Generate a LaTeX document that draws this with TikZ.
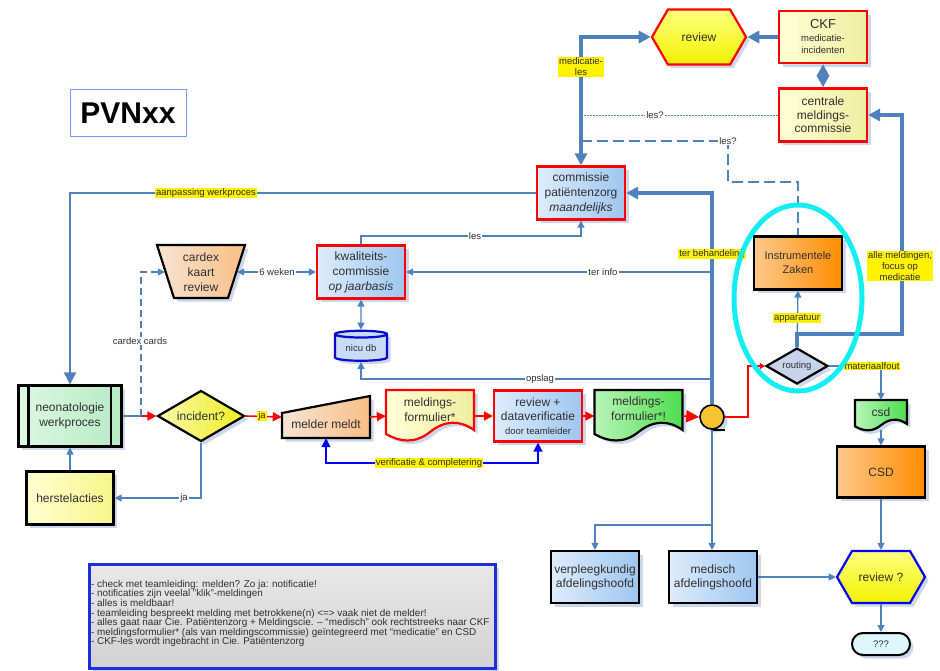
\documentclass[tikz,border=0pt]{standalone}
\usepackage{fontspec}
\setmainfont{Liberation Sans}
\usetikzlibrary{arrows.meta,shapes.geometric,shapes.symbols,shapes.misc,shadows}
\definecolor{lineblue}{HTML}{4F81BD}
\definecolor{shadowc}{HTML}{CCD8EA}
\definecolor{bA}{HTML}{DDECFB}
\definecolor{bB}{HTML}{9EC6F0}
\definecolor{yA}{HTML}{FFFFD6}
\definecolor{yB}{HTML}{EEEEA0}
\definecolor{oA}{HTML}{FFC88A}
\definecolor{oB}{HTML}{FF8C00}
\definecolor{pA}{HTML}{F7E4D4}
\definecolor{pB}{HTML}{F9BE86}
\definecolor{gA}{HTML}{DDF7E2}
\definecolor{gB}{HTML}{B6EBC3}
\definecolor{grA}{HTML}{B8F5B8}
\definecolor{grB}{HTML}{4DDE4D}
\definecolor{incA}{HTML}{F8F8B0}
\definecolor{incB}{HTML}{EEEE20}
\definecolor{hyA}{HTML}{FFFFD0}
\definecolor{hyB}{HTML}{F6F68C}
\definecolor{routc}{HTML}{C7D3EA}
\definecolor{nicuf}{HTML}{C9DCF6}
\definecolor{nicub}{HTML}{0A0ACC}
\definecolor{circf}{HTML}{F7C531}
\definecolor{qqqf}{HTML}{DDF8FC}
\definecolor{noteA}{HTML}{E8E8E8}
\definecolor{noteB}{HTML}{D2D2D2}
\definecolor{noteb}{HTML}{1E2EDB}
\definecolor{pvnb}{HTML}{7897FF}
\definecolor{cyanring}{HTML}{12EEF2}
\definecolor{vblue}{HTML}{0000FF}
\definecolor{redc}{HTML}{FF0000}
\definecolor{hexyA}{HTML}{FFFF80}
\definecolor{hexyB}{HTML}{F2F200}
\definecolor{txtc}{HTML}{303030}
\newcommand{\myfbx}{\fontsize{12}{15}\selectfont}
\newcommand{\myflb}{\fontsize{9.5}{11}\selectfont}
\newcommand{\myfsm}{\fontsize{9.5}{12}\selectfont}
\tikzset{
  shad/.style={drop shadow={shadow xshift=3.5pt,shadow yshift=-3.5pt,fill=shadowc,opacity=1}},
  box/.style={rectangle,minimum width=88pt,minimum height=53pt,inner sep=1pt,align=center,font=\myfbx,text=txtc,shad},
  redbox/.style={box,draw=redc,line width=2.2pt},
  blkbox/.style={box,draw=black,line width=2.2pt},
  bluefill/.style={left color=bA,right color=bB},
  orangefill/.style={left color=oA,right color=oB},
  hexa/.style={signal,signal to=west and east,signal pointer angle=120,inner sep=0pt,minimum width=94pt,minimum height=55pt,font=\myfbx,text=txtc,shad},
  lbl/.style={font=\myflb,fill=yellow,inner sep=1pt,align=center,text=txtc},
  wlbl/.style={font=\myflb,fill=white,inner sep=1pt,text=txtc},
  thinb/.style={draw=lineblue,line width=1.3pt},
  medb/.style={draw=lineblue,line width=2pt},
  thickb/.style={draw=lineblue,line width=3.5pt},
  redl/.style={draw=redc,line width=1.6pt},
  sarr/.style={-{Triangle[length=7pt,width=7pt]}},
  sarrb/.style={{Triangle[length=7pt,width=7pt]}-{Triangle[length=7pt,width=7pt]}},
  barr/.style={-{Triangle[length=12pt,width=12pt]}},
  barrb/.style={{Triangle[length=12pt,width=12pt]}-{Triangle[length=12pt,width=12pt]}},
  rarr/.style={-{Triangle[length=9pt,width=9pt]}},
  docframe/.style={line width=2.2pt,shad},
  txtnode/.style={inner sep=0pt,align=center,font=\myfbx,text=txtc},
}
\begin{document}
\begin{tikzpicture}[x=1pt,y=-1pt]
\useasboundingbox[fill=white] (0,0) rectangle (940,670);

% ---------- title
\node[draw=pvnb,line width=1pt,minimum width=116pt,minimum height=47pt,inner sep=0pt,font=\bfseries\fontsize{30}{32}\selectfont] (pvn) at (128,113) {PVNxx};

% ---------- top right
\node[hexa,draw=redc,line width=2.2pt,top color=hexyA,bottom color=hexyB] (review) at (699,37) {review};
\node[redbox,left color=yA,right color=yB,minimum height=52pt,font=\myfsm] (ckf) at (823,37) {{\fontsize{13}{15}\selectfont CKF}\\[1pt]medicatie-\\incidenten};
\node[redbox,left color=yA,right color=yB,font=\fontsize{12}{13.5}\selectfont] (centrale) at (823,115) {centrale\\meldings-\\commissie};

% ---------- committees
\node[redbox,bluefill] (commpat) at (581,193) {commissie\\patiëntenzorg\\\textit{maandelijks}};
\node[redbox,bluefill] (kwal) at (361,272) {kwaliteits-\\commissie\\\textit{op jaarbasis}};
\node[cylinder,shape border rotate=90,aspect=0.22,draw=nicub,line width=2.2pt,fill=nicuf,minimum width=52pt,minimum height=30pt,inner sep=0pt,font=\myflb,text=txtc,shad] (nicu) at (361,348) {nicu db};

% cardex (inverted trapezoid)
\draw[line width=2.2pt,left color=pA,right color=pB,shad] (157,245) -- (245,245) -- (228,298) -- (174,298) -- cycle;
\node[txtnode,minimum width=72pt,minimum height=45pt] (cardex) at (201,272) {cardex\\kaart\\review};

% ---------- left
\node[blkbox,left color=gA,right color=gB,minimum width=103pt,minimum height=61pt] (neo) at (70,416) {neonatologie\\werkproces};
\draw[line width=2.2pt] ([xshift=11pt]neo.north west) -- ([xshift=11pt]neo.south west);
\draw[line width=2.2pt] ([xshift=-12pt]neo.north east) -- ([xshift=-12pt]neo.south east);
\node[blkbox,left color=hyA,right color=hyB,minimum width=87pt] (herst) at (70,498) {herstelacties};
\node[diamond,aspect=1.7,draw=black,line width=2.2pt,left color=incA,right color=incB,minimum width=87pt,minimum height=51pt,inner sep=0pt,font=\myfbx,text=txtc,shad] (incident) at (201,416) {incident?};

% melder meldt (manual input)
\draw[line width=2.2pt,left color=pA,right color=pB,shad] (282,438) -- (370,438) -- (370,396) -- (282,413) -- cycle;
\node[minimum width=88pt,minimum height=42pt,inner sep=0pt] (melder) at (326,417) {};
\node[txtnode] (meldert) at (326,424) {melder meldt};

% meldingsformulier*
\draw[docframe,draw=redc,left color=yA,right color=yB,shift={(430,390)}] (-44,0) -- (44,0) -- (44,40) .. controls (30,30) and (15,30) .. (0,42) .. controls (-15,54) and (-30,52) .. (-44,44) -- cycle;
\node[minimum width=88pt,minimum height=46pt,inner sep=0pt] (mf1) at (430,416) {};
\node[txtnode] (mf1t) at (430,410) {meldings-\\formulier*};

% review + dataverificatie
\node[redbox,bluefill,minimum height=51pt,font=\fontsize{12}{14}\selectfont] (rev) at (538,416) {review +\\dataverificatie\\{\myfsm door teamleider}};

% meldingsformulier*!
\draw[docframe,draw=black,left color=grA,right color=grB,shift={(638.5,390)}] (-44,0) -- (44,0) -- (44,40) .. controls (30,30) and (15,30) .. (0,42) .. controls (-15,54) and (-30,52) .. (-44,44) -- cycle;
\node[minimum width=88pt,minimum height=46pt,inner sep=0pt] (mf2) at (638.5,416) {};
\node[txtnode] (mf2t) at (638.5,409) {meldings-\\formulier*!};

% connector circle
\node[circle,draw=black,line width=1.6pt,fill=circf,minimum size=24pt,inner sep=0pt,shad] (circ) at (712,417) {};
\draw[line width=1.6pt] (circ.south) -- ++(13pt,0pt);

% ---------- right side
\node[blkbox,orangefill,font=\fontsize{11}{14}\selectfont] (instr) at (798,263) {Instrumentele\\Zaken};
\node[diamond,aspect=1.7,draw=black,line width=2.2pt,fill=routc,minimum width=62pt,minimum height=36pt,inner sep=0pt,font=\myflb,text=txtc,shad] (routing) at (797,366) {routing};

\draw[docframe,draw=black,left color=grA,right color=grB,shift={(881,400)},xscale=0.59,yscale=0.6] (-44,0) -- (44,0) -- (44,40) .. controls (30,30) and (15,30) .. (0,42) .. controls (-15,54) and (-30,52) .. (-44,44) -- cycle;
\node[minimum width=52pt,minimum height=30pt,inner sep=0pt] (csdd) at (881,415) {};
\node[txtnode] (csdt) at (881,412) {csd};
\node[blkbox,orangefill,minimum height=51pt] (CSD) at (881,472) {CSD};

% ---------- bottom
\node[blkbox,bluefill,minimum height=52pt,font=\fontsize{12}{14}\selectfont] (verpl) at (595,577) {verpleegkundig\\afdelingshoofd};
\node[blkbox,bluefill,minimum height=52pt,font=\fontsize{12}{14}\selectfont] (medisch) at (713,577) {medisch\\afdelingshoofd};
\node[hexa,draw=vblue,line width=2.2pt,top color=hexyA,bottom color=hexyB,minimum width=88pt,minimum height=52pt] (reviewq) at (881,577) {review ?};
\node[rounded rectangle,draw=black,line width=2pt,fill=qqqf,minimum width=58pt,minimum height=22pt,inner sep=0pt,font=\myflb,text=txtc,shad] (qqq) at (881,644) {???};

% notes
\node[anchor=north west,minimum width=406pt,minimum height=104pt,draw=noteb,line width=2.5pt,top color=noteA,bottom color=noteB,shad] (notebox) at (88,563) {};
\node[anchor=north west,align=left,inner sep=0pt,text=txtc,font=\fontsize{9.9}{9.6}\selectfont] (notes) at (91,580) {- check met teamleiding: melden? Zo ja: notificatie!\\
- notificaties zijn veelal "klik"-meldingen\\
- alles is meldbaar!\\
- teamleiding bespreekt melding met betrokkene(n) <=> vaak niet de melder!\\
- alles gaat naar Cie. Patiëntenzorg + Meldingscie. – “medisch” ook rechtstreeks naar CKF\\
- meldingsformulier* (als van meldingscommissie) geïntegreerd met “medicatie” en CSD\\
- CKF-les wordt ingebracht in Cie. Patiëntenzorg};

% ---------- helper coordinates
\coordinate (lesc) at (728,141);
\coordinate (dk) at (728,182);
\coordinate (lesy) at (0,236);
\coordinate (opy) at (0,379);
\coordinate (cc) at (141,416);
\coordinate (vy) at (0,463);
\coordinate (rx) at (748,0);
\coordinate (ry) at (0,334);
\coordinate (rgt) at (902,0);
\coordinate (dy) at (0,525);

% ---------- connectors
\draw[thickb,barr] (ckf.west) -- (review.east);
\draw[thickb,barrb] (ckf.south) -- (centrale.north);
\draw[thickb,barrb] (review.west) -- (review.west -| commpat.north) -- (commpat.north);
\node[lbl] (mlesl) at (581,67) {medicatie-\\les};

\draw[thinb,line width=1pt,dash pattern=on 1.5pt off 1.5pt] (centrale.west) -- (centrale.west -| commpat.north);
\node[wlbl] (les1) at (655,115) {les?};

\draw[thinb,dash pattern=on 11pt off 5pt] (lesc -| commpat.north) -- (lesc) -- (dk) -- (dk -| instr.north) -- (instr.north);
\node[wlbl] (les2) at (lesc) {les?};

\draw[thickb,barr] (circ.north) -- (circ.north |- commpat.east) -- (commpat.east);

\draw[medb,barr] (commpat.west) -- (commpat.west -| neo.north) -- (neo.north);
\node[lbl] (aanp) at (206,193) {aanpassing werkproces};

\draw[thinb,sarr] (kwal.north) -- (kwal.north |- lesy) -- (commpat.south |- lesy) -- (commpat.south);
\node[wlbl] (les3) at (475,236) {les};

\draw[thinb,sarrb] (cardex.east) -- (kwal.west);
\node[wlbl] (zesw) at (277,272) {6 weken};

\draw[thinb,sarr] (circ.north |- kwal.east) -- (kwal.east);
\node[wlbl] (terinfo) at (603,272) {ter info};

\draw[thinb,sarrb] (kwal.south) -- (nicu.north);

\draw[thinb,sarr] (circ.north |- opy) -- (nicu.south |- opy) -- (nicu.south);
\node[wlbl] (opslag) at (540,379) {opslag};

\draw[thinb] (neo.east) -- (cc);
\draw[redl,rarr] (cc) -- (incident.west);
\draw[thinb,dash pattern=on 7pt off 4pt,sarr] (cc) -- (cc |- cardex.west) -- (cardex.west);
\node[wlbl] (ccards) at (140,341) {cardex cards};

\draw[redl,rarr] (incident.east) -- (melder.west);
\node[lbl] (ja1) at (262,416) {ja};
\draw[thinb,sarr] (incident.south) -- (incident.south |- herst.east) -- (herst.east);
\node[wlbl] (ja2) at (184,498) {ja};
\draw[thinb,sarr] (herst.north) -- (neo.south);

\draw[redl,rarr] (melder.east) -- (mf1.west);
\draw[redl,rarr] (mf1.east) -- (rev.west);
\draw[redl,rarr] (rev.east) -- (mf2.west);
\draw[redl,-{Triangle[length=13pt,width=12pt]}] (mf2.east) -- (circ.west);

\draw[draw=vblue,line width=1.5pt,{Triangle[length=9pt,width=9pt]}-{Triangle[length=9pt,width=9pt]}] (melder.south) -- (melder.south |- vy) -- (rev.south |- vy) -- (rev.south);
\node[lbl] (verif) at (429,463) {verificatie \& completering};

\draw[redl,-{Triangle[length=5pt,width=6pt]}] (circ.east) -- (circ.east -| rx) -- (rx |- routing.west) -- (routing.west);

\draw[thinb,sarr] (routing.north) -- (instr.south);
\node[lbl] (app) at (797,318) {apparatuur};
\draw[thickb,barr] (routing.north) -- (routing.north |- ry) -- (rgt |- ry) -- (rgt |- centrale.east) -- (centrale.east);
\node[lbl] (allem) at (900,266) {alle meldingen,\\focus op\\medicatie};

\draw[thinb,sarr] (routing.east) -- (routing.east -| csdd.north) -- (csdd.north);
\node[lbl] (matf) at (872,366) {materiaalfout};

\draw[thinb,sarr] (csdd.south) -- (CSD.north);
\draw[thinb,sarr] (CSD.south) -- (reviewq.north);
\draw[thinb,sarr] (reviewq.south) -- (qqq.north);

\draw[thinb,sarr] (circ.south) -- (circ.south |- medisch.north);
\draw[thinb,sarr] (circ.south |- dy) -- (verpl.north |- dy) -- (verpl.north);
\draw[thinb,sarr] (medisch.east) -- (reviewq.west);

\node[lbl] (terbeh) at (712,254) {ter behandeling};

% highlight ring
\draw[cyanring,line width=5pt] (798,298) ellipse [x radius=64,y radius=93];
\end{tikzpicture}
\end{document}
